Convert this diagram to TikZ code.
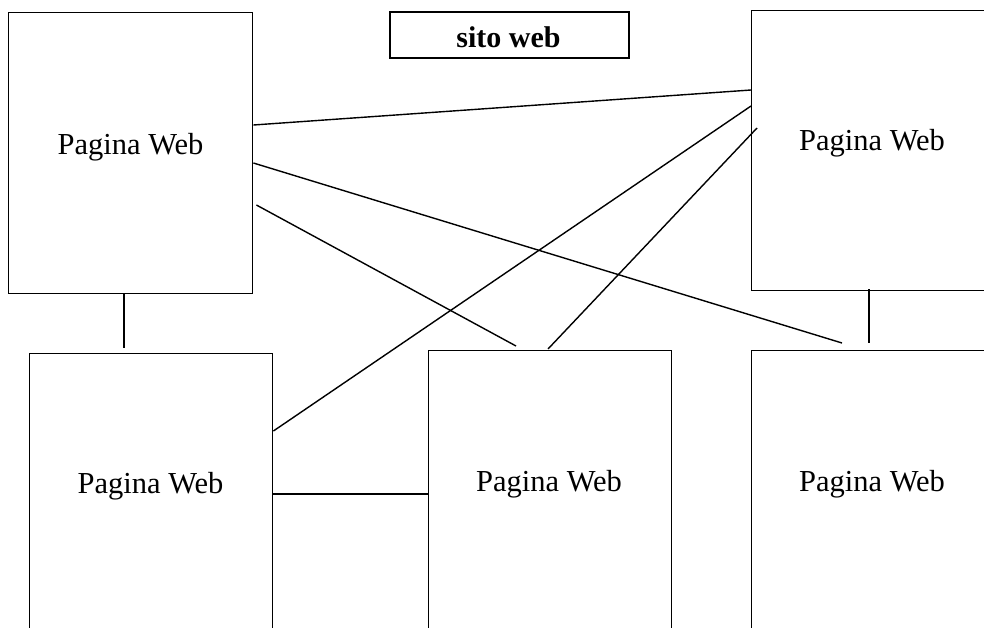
\documentclass[tikz,border=0pt]{standalone}
\usepackage{fontspec}
\setmainfont{Liberation Serif}
\usetikzlibrary{calc}
\begin{document}
\begin{tikzpicture}[x=1pt,y=-1pt,
  page/.style={draw,line width=1.4pt,rectangle,inner sep=0pt,anchor=north west},
  pagelabel/.style={anchor=base,font=\fontsize{30.5}{35}\selectfont,inner sep=0pt},
  titlebox/.style={draw,line width=1.5pt,rectangle,inner sep=0pt,anchor=north west,
    minimum width=239pt,minimum height=46pt},
  link/.style={line width=1.4pt}]
\useasboundingbox (0,0) rectangle (984,627);
\clip (0,0) rectangle (984,627);

% page boxes (the right and bottom ones run past the edge of the sheet)
\node[page,minimum width=244pt,minimum height=281pt] (tl) at (8,12) {};
\node[page,minimum width=242pt,minimum height=280pt] (tr) at (751,10) {};
\node[page,minimum width=243pt,minimum height=300pt] (bl) at (29,353) {};
\node[page,minimum width=243pt,minimum height=300pt] (bm) at (428,350) {};
\node[page,minimum width=242pt,minimum height=300pt] (br) at (751,350) {};

% labels
\node[pagelabel] (tlt) at (130.5,154) {Pagina Web};
\node[pagelabel] (trt) at (872,150) {Pagina Web};
\node[pagelabel] (blt) at (150.5,493) {Pagina Web};
\node[pagelabel] (bmt) at (549,491) {Pagina Web};
\node[pagelabel] (brt) at (872,491) {Pagina Web};

% title
\node[titlebox] (title) at (389,11) {};
\node[pagelabel,font=\fontsize{30}{34}\selectfont\bfseries] (titlet) at (508.5,47.5) {sito web};

% connectors
\draw[link] ($(tl.north east)+(0,113)$) -- ($(tr.north west)+(0,80)$);
\draw[link] ($(tl.north east)+(0,151)$) -- ($(br.north west)+(91,-7)$);
\draw[link] ($(tl.north east)+(3,193)$) -- ($(bm.north west)+(88,-4)$);
\draw[link] ($(bl.north east)+(0,78)$) -- ($(tr.north west)+(0,96)$);
\draw[link] ($(bm.north west)+(120,-1)$) -- ($(tr.north west)+(6,118)$);
\draw[link] ($(tl.south west)+(116,0)$) -- ($(bl.north west)+(95,-5)$);
\draw[link] ($(tr.south west)+(118,-2)$) -- ($(br.north west)+(118,-7)$);
\draw[link] ($(bl.north east)+(0,141)$) -- ($(bm.north west)+(0,144)$);
\end{tikzpicture}
\end{document}
